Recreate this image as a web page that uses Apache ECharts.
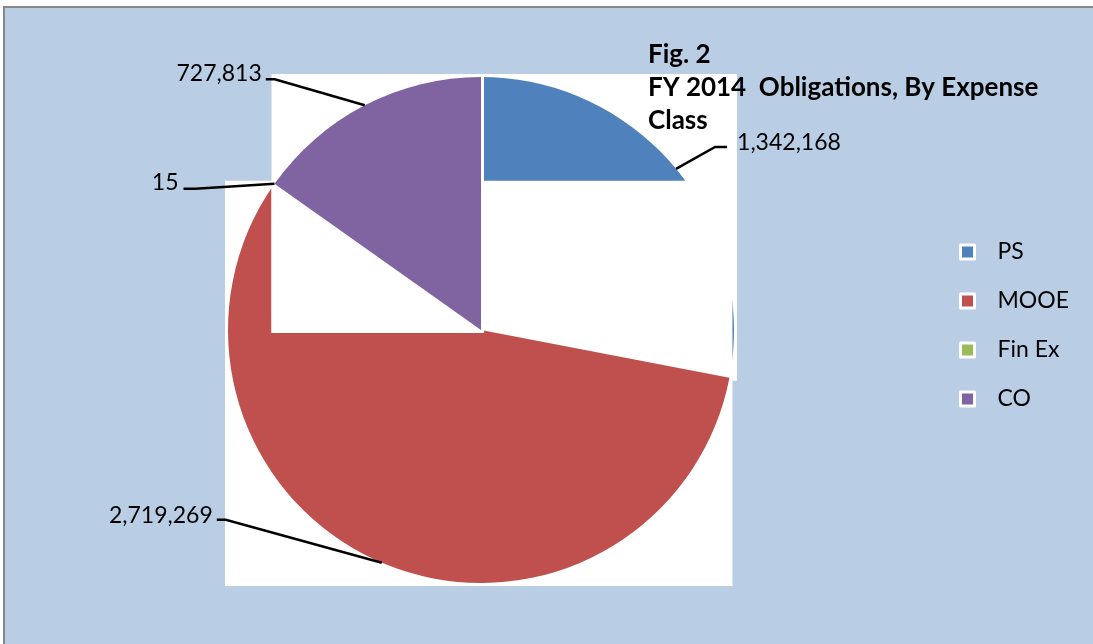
<!DOCTYPE html>
<html>
<head>
<meta charset="utf-8">
<title>FY 2014 Obligations, By Expense Class</title>
<script src="https://cdn.jsdelivr.net/npm/echarts@6/dist/echarts.min.js"></script>
<style>
  html, body { margin: 0; padding: 0; background: #fff; overflow: hidden; }
  #chart {
    position: absolute; left: 3px; top: 6px;
    width: 1100px; height: 650px;
    border: 2px solid #878787;
    background: #b9cde5;
  }
</style>
</head>
<body>
<div id="chart"></div>
<script>
// data
const categories = ['PS', 'MOOE', 'Fin Ex', 'CO'];
const obligations = [1342168, 2719269, 15, 727813];
const sliceColors = ['#4f81bd', '#c0504d', '#9bbb59', '#8064a2'];

// pie geometry (px, chart coords)
const cx = 476, cy = 322, R = 253;

// leader line shapes: elbow offset from slice edge, horizontal run, text gap, text y shift
const guides = [
  { dx: 39, dy: -22, h: 12, gap: 10, ty: -4 },
  { dx: -156, dy: -43, h: -9, gap: -4, ty: -4 },
  { dx: -79, dy: 5, h: -12, gap: -5, ty: -6 },
  { dx: -90, dy: -26, h: -9, gap: -4, ty: -6 }
];

const total = obligations.reduce((a, b) => a + b, 0);
const angles = [];
let acc = 0;
obligations.forEach(v => {
  const a0 = acc / total * Math.PI * 2;
  acc += v;
  angles.push([a0, acc / total * Math.PI * 2]);
});

// white backing box of each slice (the odd rendering of the original)
function sectorBox(a0, a1, pad) {
  const pts = [[cx, cy]];
  const add = a => pts.push([cx + R * Math.sin(a), cy - R * Math.cos(a)]);
  add(a0); add(a1);
  for (let k = 0; k <= 4; k++) {
    const a = k * Math.PI / 2;
    if (a > a0 && a < a1) add(a);
  }
  const xs = pts.map(p => p[0]), ys = pts.map(p => p[1]);
  const x0 = Math.min(...xs) - pad, y0 = Math.min(...ys) - pad;
  return { x: x0, y: y0, width: Math.max(...xs) + pad - x0, height: Math.max(...ys) + pad - y0 };
}

const chart = echarts.init(document.getElementById('chart'));
const font = 'Lato, "Open Sans", sans-serif';

const sliceSeries = categories.map((name, i) => ({
  type: 'pie',
  name: name,
  z: 2 + 2 * i,
  center: [cx, cy],
  radius: R,
  startAngle: 90,
  silent: true,
  avoidLabelOverlap: false,
  label: { show: false },
  labelLine: { show: false },
  emphasis: { disabled: true },
  itemStyle: { borderWidth: 0 },
  data: categories.map((n, j) => ({
    name: n,
    value: obligations[j],
    itemStyle: { color: j === i ? sliceColors[j] : 'rgba(0,0,0,0)' }
  }))
}));

const labelSeries = {
  type: 'pie',
  name: 'labels',
  z: 20,
  center: [cx, cy],
  radius: R,
  startAngle: 90,
  silent: true,
  avoidLabelOverlap: false,
  emphasis: { disabled: true },
  itemStyle: { borderWidth: 0 },
  label: {
    show: true,
    position: 'outside',
    color: '#000',
    fontFamily: font,
    fontSize: 23,
    formatter: p => p.value.toLocaleString('en-US')
  },
  labelLine: { show: true, lineStyle: { color: '#000', width: 2.5 } },
  labelLayout: function (p) {
    const g = guides[p.dataIndex];
    const [a0, a1] = angles[p.dataIndex];
    const a = (a0 + a1) / 2;
    const x0 = cx + R * Math.sin(a), y0 = cy - R * Math.cos(a);
    const x1 = x0 + g.dx, y1 = y0 + g.dy;
    const x2 = x1 + g.h;
    return {
      x: x2 + g.gap,
      y: y1 + g.ty,
      align: g.h > 0 ? 'left' : 'right',
      verticalAlign: 'middle',
      hideOverlap: false,
      labelLinePoints: [[x0, y0], [x1, y1], [x2, y1]]
    };
  },
  data: categories.map((n, j) => ({
    name: n,
    value: obligations[j],
    itemStyle: { color: 'rgba(0,0,0,0)' }
  }))
};

const boxes = angles.map((a, i) => ({
  type: 'rect',
  z: 1 + 2 * i,
  silent: true,
  shape: sectorBox(a[0], a[1], 3),
  style: { fill: '#fff' }
}));

chart.setOption({
  animation: false,
  title: {
    text: 'Fig. 2\nFY 2014  Obligations, By Expense\nClass',
    left: 643,
    top: 30,
    padding: 0,
    textStyle: {
      fontFamily: font,
      fontWeight: 'bold',
      fontSize: 26,
      lineHeight: 33,
      color: '#000'
    }
  },
  legend: {
    orient: 'vertical',
    left: 949,
    top: 227,
    icon: 'rect',
    itemWidth: 14,
    itemHeight: 14,
    itemGap: 25,
    selectedMode: false,
    itemStyle: { borderColor: '#fff', borderWidth: 3 },
    data: categories.map((n, i) => ({ name: n, itemStyle: { color: sliceColors[i] } })),
    textStyle: {
      fontFamily: font,
      fontSize: 23,
      lineHeight: 24,
      color: '#000',
      padding: [0, 0, 0, 18]
    }
  },
  graphic: { elements: boxes },
  series: sliceSeries.concat([labelSeries])
});

window.addEventListener('resize', () => chart.resize());
</script>
</body>
</html>
